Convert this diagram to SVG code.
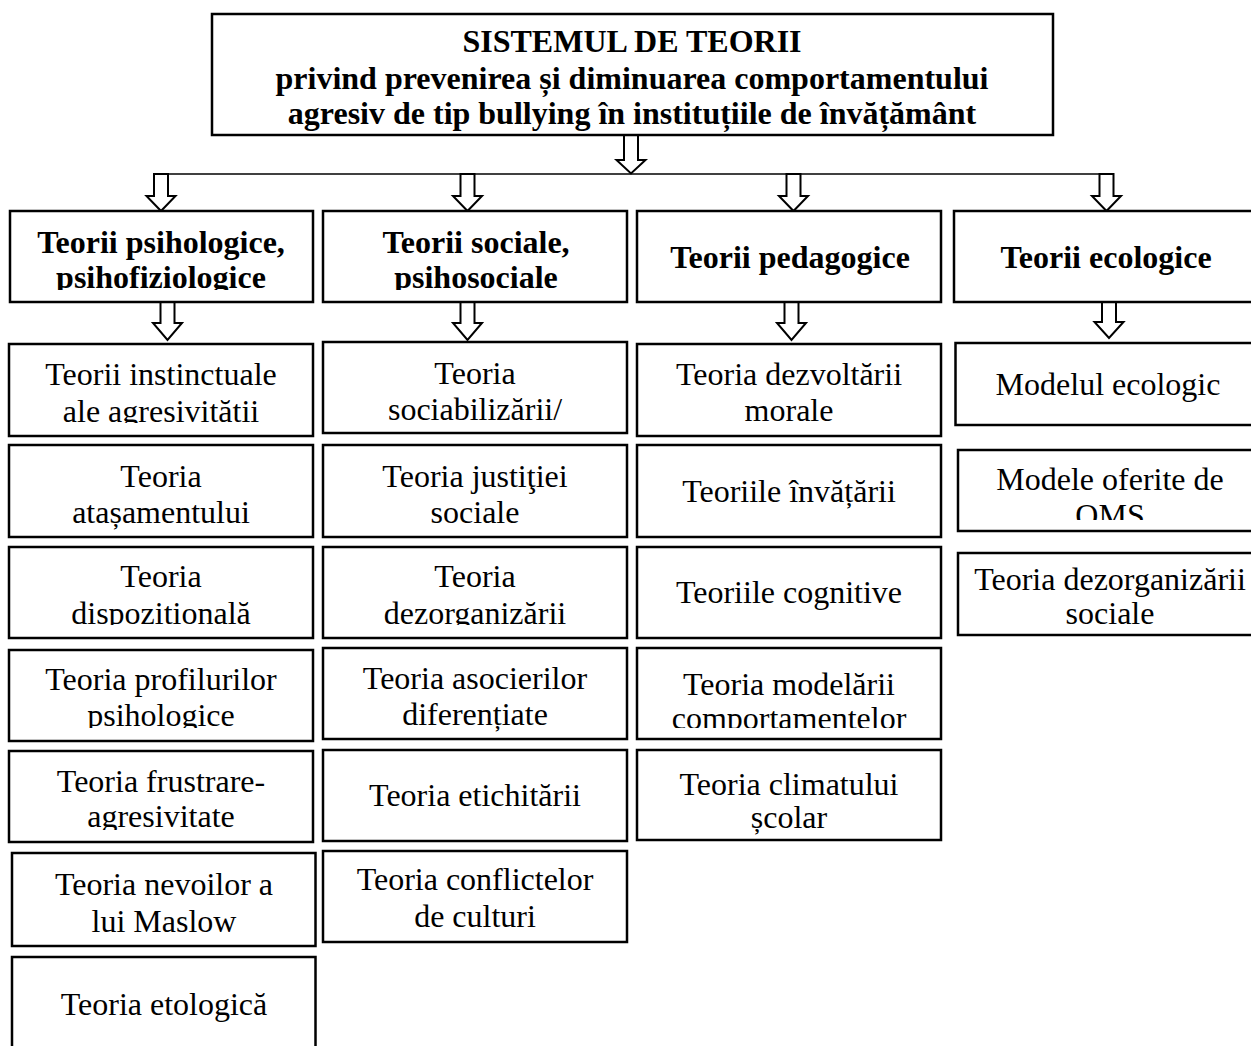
<svg xmlns="http://www.w3.org/2000/svg" width="1251" height="1046" viewBox="0 0 1251 1046">
<style>
.box{fill:#fff;stroke:#000;stroke-width:2.5}
.t{font-family:'Liberation Serif','Times New Roman',Times,'DejaVu Serif',serif;font-size:32px;text-anchor:middle;fill:#000}
.b{font-weight:bold}
.arr{fill:#fff;stroke:#000;stroke-width:2;stroke-linejoin:miter}
.ln{fill:none;stroke:#000;stroke-width:1.6}
</style>
<defs>
<clipPath id="cH1"><rect x="10" y="211" width="303" height="79"/></clipPath>
<clipPath id="cH2"><rect x="323" y="211" width="304" height="79"/></clipPath>
<clipPath id="c11"><rect x="9" y="344" width="304" height="79"/></clipPath>
<clipPath id="c13"><rect x="9" y="547" width="304" height="78"/></clipPath>
<clipPath id="c14"><rect x="9" y="650" width="304" height="78"/></clipPath>
<clipPath id="c15"><rect x="9" y="751" width="304" height="79"/></clipPath>
<clipPath id="c21"><rect x="323" y="342" width="304" height="81"/></clipPath>
<clipPath id="c23"><rect x="323" y="547" width="304" height="78"/></clipPath>
<clipPath id="c34"><rect x="637" y="648" width="304" height="80"/></clipPath>
<clipPath id="c42"><rect x="958" y="450" width="304" height="70"/></clipPath>
</defs>
<rect width="1251" height="1046" fill="#fff"/>

<g id="connectors">
<line class="ln" x1="168" y1="174" x2="1099.5" y2="174"/>
<polygon class="arr" points="624,135 638,135 638,160 645.5,160 631,173.5 616.5,160 624,160"/>
<polygon class="arr" points="154,174 168,174 168,196 175.5,196 161,211 146.5,196 154,196"/>
<polygon class="arr" points="460.5,174 474.5,174 474.5,196 482,196 467.5,211 453,196 460.5,196"/>
<polygon class="arr" points="786.5,174 800.5,174 800.5,196 808,196 793.5,211 779,196 786.5,196"/>
<polygon class="arr" points="1099.5,174 1113.5,174 1113.5,196 1121,196 1106.5,211 1092,196 1099.5,196"/>
<polygon class="arr" points="160.5,302 174.5,302 174.5,323 182,323 167.5,340 153,323 160.5,323"/>
<polygon class="arr" points="460.5,302 474.5,302 474.5,323 482,323 467.5,340 453,323 460.5,323"/>
<polygon class="arr" points="784.5,302 798.5,302 798.5,323 806,323 791.5,340 777,323 784.5,323"/>
<polygon class="arr" points="1102,302 1116,302 1116,322 1123.5,322 1109,338 1094.5,322 1102,322"/>
</g>

<g font-family="Liberation Serif, Times New Roman, serif">
<g id="title">
<rect class="box" x="212" y="14" width="841" height="121"/>
<text class="t b" x="632" y="52">SISTEMUL DE TEORII</text>
<text class="t b" x="632" y="88.5">privind prevenirea și diminuarea comportamentului</text>
<text class="t b" x="632" y="124">agresiv de tip bullying în instituțiile de învățământ</text>
</g>

<g id="h1">
<rect class="box" x="10" y="211" width="303" height="91"/>
<g clip-path="url(#cH1)"><text class="t b" x="161" y="253">Teorii psihologice,</text><text class="t b" x="161" y="288">psihofiziologice</text></g>
</g>
<g id="h2">
<rect class="box" x="323" y="211" width="304" height="91"/>
<g clip-path="url(#cH2)"><text class="t b" x="476" y="253">Teorii sociale,</text><text class="t b" x="476" y="288">psihosociale</text></g>
</g>
<g id="h3">
<rect class="box" x="637" y="211" width="304" height="91"/>
<text class="t b" x="790" y="268">Teorii pedagogice</text>
</g>
<g id="h4">
<rect class="box" x="954" y="211" width="306" height="91"/>
<text class="t b" x="1106" y="268">Teorii ecologice</text>
</g>

<g id="c1r1">
<rect class="box" x="9" y="344" width="304" height="92"/>
<g clip-path="url(#c11)"><text class="t" x="161" y="385">Teorii instinctuale</text><text class="t" x="161" y="421.5">ale agresivității</text></g>
</g>
<g id="c1r2">
<rect class="box" x="9" y="445" width="304" height="92"/>
<text class="t" x="161" y="486.5">Teoria</text><text class="t" x="161" y="523">atașamentului</text>
</g>
<g id="c1r3">
<rect class="box" x="9" y="547" width="304" height="91"/>
<g clip-path="url(#c13)"><text class="t" x="161" y="587">Teoria</text><text class="t" x="161" y="623.5">dispozițională</text></g>
</g>
<g id="c1r4">
<rect class="box" x="9" y="650" width="304" height="91"/>
<g clip-path="url(#c14)"><text class="t" x="161" y="690">Teoria profilurilor</text><text class="t" x="161" y="726">psihologice</text></g>
</g>
<g id="c1r5">
<rect class="box" x="9" y="751" width="304" height="91"/>
<g clip-path="url(#c15)"><text class="t" x="161" y="791.5">Teoria frustrare-</text><text class="t" x="161" y="827">agresivitate</text></g>
</g>
<g id="c1r6">
<rect class="box" x="12" y="853" width="303.5" height="93"/>
<text class="t" x="164" y="895">Teoria nevoilor a</text><text class="t" x="164" y="931.5">lui Maslow</text>
</g>
<g id="c1r7">
<rect class="box" x="12" y="957" width="303.5" height="100"/>
<text class="t" x="164" y="1015">Teoria etologică</text>
</g>

<g id="c2r1">
<rect class="box" x="323" y="342" width="304" height="91"/>
<g clip-path="url(#c21)"><text class="t" x="475" y="383.5">Teoria</text><text class="t" x="475" y="420">sociabilizării/</text></g>
</g>
<g id="c2r2">
<rect class="box" x="323" y="445" width="304" height="92"/>
<text class="t" x="475" y="486.5">Teoria justiţiei</text><text class="t" x="475" y="523">sociale</text>
</g>
<g id="c2r3">
<rect class="box" x="323" y="547" width="304" height="91"/>
<g clip-path="url(#c23)"><text class="t" x="475" y="587">Teoria</text><text class="t" x="475" y="623.5">dezorganizării</text></g>
</g>
<g id="c2r4">
<rect class="box" x="323" y="648" width="304" height="91"/>
<text class="t" x="475" y="688.5">Teoria asocierilor</text><text class="t" x="475" y="725">diferențiate</text>
</g>
<g id="c2r5">
<rect class="box" x="323" y="750" width="304" height="91"/>
<text class="t" x="475" y="805.5">Teoria etichitării</text>
</g>
<g id="c2r6">
<rect class="box" x="323" y="851" width="304" height="91"/>
<text class="t" x="475" y="890">Teoria conflictelor</text><text class="t" x="475" y="926.5">de culturi</text>
</g>

<g id="c3r1">
<rect class="box" x="637" y="344" width="304" height="92"/>
<text class="t" x="789" y="385">Teoria dezvoltării</text><text class="t" x="789" y="421">morale</text>
</g>
<g id="c3r2">
<rect class="box" x="637" y="445" width="304" height="92"/>
<text class="t" x="789" y="501.5">Teoriile învățării</text>
</g>
<g id="c3r3">
<rect class="box" x="637" y="547" width="304" height="91"/>
<text class="t" x="789" y="603">Teoriile cognitive</text>
</g>
<g id="c3r4">
<rect class="box" x="637" y="648" width="304" height="91"/>
<g clip-path="url(#c34)"><text class="t" x="789" y="695">Teoria modelării</text><text class="t" x="789" y="729">comportamentelor</text></g>
</g>
<g id="c3r5">
<rect class="box" x="637" y="750" width="304" height="90"/>
<text class="t" x="789" y="795">Teoria climatului</text><text class="t" x="789" y="828">școlar</text>
</g>

<g id="c4r1">
<rect class="box" x="955.5" y="343" width="306" height="82"/>
<text class="t" x="1108" y="395">Modelul ecologic</text>
</g>
<g id="c4r2">
<rect class="box" x="958" y="450" width="304" height="81"/>
<g clip-path="url(#c42)"><text class="t" x="1110" y="490">Modele oferite de</text><text class="t" x="1110" y="526">OMS</text></g>
</g>
<g id="c4r3">
<rect class="box" x="958" y="553" width="304" height="82"/>
<text class="t" x="1110" y="589.5">Teoria dezorganizării</text><text class="t" x="1110" y="623.5">sociale</text>
</g>
</g>
</svg>
